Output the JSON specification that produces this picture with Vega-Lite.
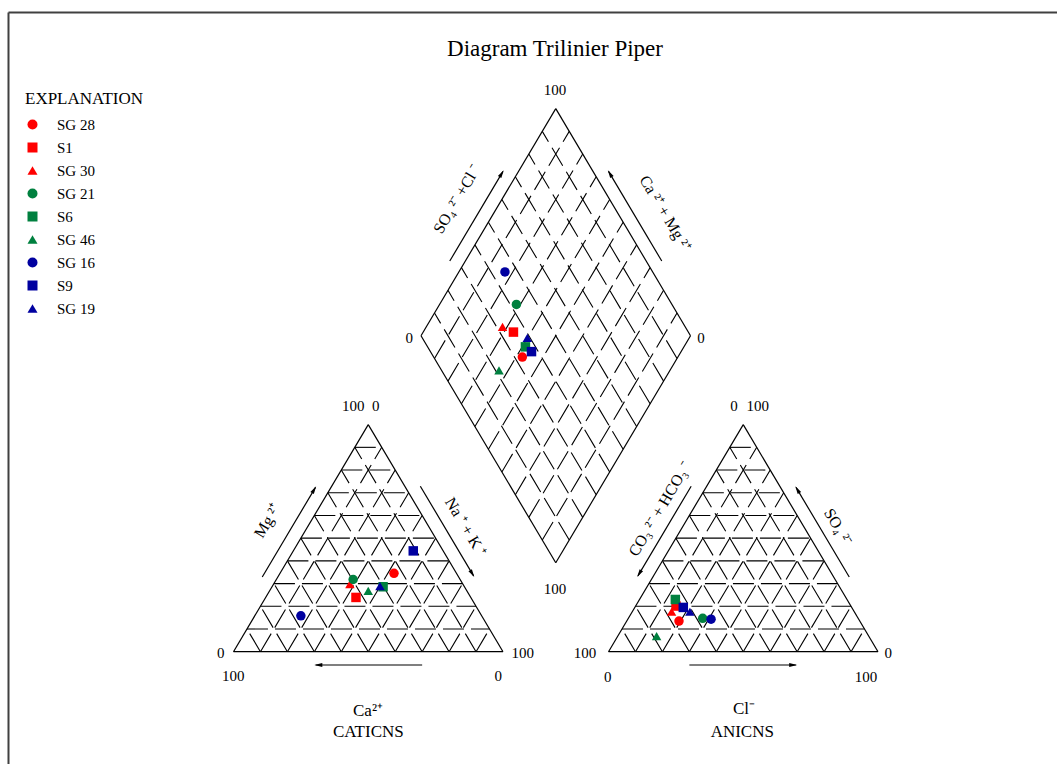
{
  "$schema": "https://vega.github.io/schema/vega-lite/v6.json",
  "width": 1057,
  "height": 764,
  "autosize": {"type": "none"},
  "padding": 0,
  "background": "white",
  "config": {
    "view": {"stroke": null},
    "font": "Liberation Serif",
    "legend": {
      "orient": "none",
      "legendX": 25,
      "legendY": 91,
      "titleFont": "Liberation Serif",
      "titleFontSize": 17,
      "titleFontWeight": "normal",
      "titleColor": "#000000",
      "titlePadding": 9,
      "labelFont": "Liberation Serif",
      "labelFontSize": 15,
      "labelColor": "#000000",
      "labelOffset": 17,
      "symbolSize": 100,
      "symbolStrokeWidth": 0,
      "rowPadding": 7
    }
  },
  "datasets": {
    "samples": [
      {"sample": "SG 28", "Ca": 23.2, "Mg": 34.5, "NaK": 42.3, "HCO3": 67.1, "SO4": 13.5, "Cl": 19.4},
      {"sample": "S1", "Ca": 42.6, "Mg": 23.9, "NaK": 33.5, "HCO3": 64.9, "SO4": 20.1, "Cl": 15.0},
      {"sample": "SG 30", "Ca": 41.9, "Mg": 29.8, "NaK": 28.3, "HCO3": 67.8, "SO4": 17.6, "Cl": 14.6},
      {"sample": "SG 21", "Ca": 39.7, "Mg": 31.8, "NaK": 28.5, "HCO3": 57.7, "SO4": 14.7, "Cl": 27.6},
      {"sample": "S6", "Ca": 30.2, "Mg": 28.6, "NaK": 41.2, "HCO3": 63.7, "SO4": 23.0, "Cl": 13.3},
      {"sample": "SG 46", "Ca": 36.6, "Mg": 26.8, "NaK": 36.6, "HCO3": 78.7, "SO4": 6.9, "Cl": 14.4},
      {"sample": "SG 16", "Ca": 67.1, "Mg": 15.8, "NaK": 17.1, "HCO3": 54.8, "SO4": 14.3, "Cl": 30.9},
      {"sample": "S9", "Ca": 11.1, "Mg": 44.4, "NaK": 44.5, "HCO3": 62.5, "SO4": 19.5, "Cl": 18.0},
      {"sample": "SG 19", "Ca": 31.2, "Mg": 28.9, "NaK": 39.9, "HCO3": 61.0, "SO4": 17.6, "Cl": 21.4}
    ],
    "frame": [
      {"x": -83.49, "y": 243.78, "x2": 305.57, "y2": 243.78},
      {"x": -83.49, "y": -42.83, "x2": -83.49, "y2": 243.78}
    ],
    "grid": [
      {"x": 5, "y": 8.66, "x2": 95, "y2": 8.66},
      {"x": 10, "y": 17.32, "x2": 90, "y2": 17.32},
      {"x": 15, "y": 25.98, "x2": 85, "y2": 25.98},
      {"x": 20, "y": 34.64, "x2": 80, "y2": 34.64},
      {"x": 25, "y": 43.3, "x2": 75, "y2": 43.3},
      {"x": 30, "y": 51.96, "x2": 70, "y2": 51.96},
      {"x": 35, "y": 60.62, "x2": 65, "y2": 60.62},
      {"x": 40, "y": 69.28, "x2": 60, "y2": 69.28},
      {"x": 45, "y": 77.94, "x2": 55, "y2": 77.94},
      {"x": 10, "y": 0, "x2": 55, "y2": 77.94},
      {"x": 20, "y": 0, "x2": 60, "y2": 69.28},
      {"x": 30, "y": 0, "x2": 65, "y2": 60.62},
      {"x": 40, "y": 0, "x2": 70, "y2": 51.96},
      {"x": 50, "y": 0, "x2": 75, "y2": 43.3},
      {"x": 60, "y": 0, "x2": 80, "y2": 34.64},
      {"x": 70, "y": 0, "x2": 85, "y2": 25.98},
      {"x": 80, "y": 0, "x2": 90, "y2": 17.32},
      {"x": 90, "y": 0, "x2": 95, "y2": 8.66},
      {"x": 10, "y": 0, "x2": 5, "y2": 8.66},
      {"x": 20, "y": 0, "x2": 10, "y2": 17.32},
      {"x": 30, "y": 0, "x2": 15, "y2": 25.98},
      {"x": 40, "y": 0, "x2": 20, "y2": 34.64},
      {"x": 50, "y": 0, "x2": 25, "y2": 43.3},
      {"x": 60, "y": 0, "x2": 30, "y2": 51.96},
      {"x": 70, "y": 0, "x2": 35, "y2": 60.62},
      {"x": 80, "y": 0, "x2": 40, "y2": 69.28},
      {"x": 90, "y": 0, "x2": 45, "y2": 77.94},
      {"x": 144.15, "y": 8.66, "x2": 234.15, "y2": 8.66},
      {"x": 149.15, "y": 17.32, "x2": 229.15, "y2": 17.32},
      {"x": 154.15, "y": 25.98, "x2": 224.15, "y2": 25.98},
      {"x": 159.15, "y": 34.64, "x2": 219.15, "y2": 34.64},
      {"x": 164.15, "y": 43.3, "x2": 214.15, "y2": 43.3},
      {"x": 169.15, "y": 51.96, "x2": 209.15, "y2": 51.96},
      {"x": 174.15, "y": 60.62, "x2": 204.15, "y2": 60.62},
      {"x": 179.15, "y": 69.28, "x2": 199.15, "y2": 69.28},
      {"x": 184.15, "y": 77.94, "x2": 194.15, "y2": 77.94},
      {"x": 149.15, "y": 0, "x2": 194.15, "y2": 77.94},
      {"x": 159.15, "y": 0, "x2": 199.15, "y2": 69.28},
      {"x": 169.15, "y": 0, "x2": 204.15, "y2": 60.62},
      {"x": 179.15, "y": 0, "x2": 209.15, "y2": 51.96},
      {"x": 189.15, "y": 0, "x2": 214.15, "y2": 43.3},
      {"x": 199.15, "y": 0, "x2": 219.15, "y2": 34.64},
      {"x": 209.15, "y": 0, "x2": 224.15, "y2": 25.98},
      {"x": 219.15, "y": 0, "x2": 229.15, "y2": 17.32},
      {"x": 229.15, "y": 0, "x2": 234.15, "y2": 8.66},
      {"x": 149.15, "y": 0, "x2": 144.15, "y2": 8.66},
      {"x": 159.15, "y": 0, "x2": 149.15, "y2": 17.32},
      {"x": 169.15, "y": 0, "x2": 154.15, "y2": 25.98},
      {"x": 179.15, "y": 0, "x2": 159.15, "y2": 34.64},
      {"x": 189.15, "y": 0, "x2": 164.15, "y2": 43.3},
      {"x": 199.15, "y": 0, "x2": 169.15, "y2": 51.96},
      {"x": 209.15, "y": 0, "x2": 174.15, "y2": 60.62},
      {"x": 219.15, "y": 0, "x2": 179.15, "y2": 69.28},
      {"x": 229.15, "y": 0, "x2": 184.15, "y2": 77.94},
      {"x": 114.58, "y": 42.57, "x2": 164.58, "y2": 129.17},
      {"x": 109.58, "y": 51.23, "x2": 159.58, "y2": 137.83},
      {"x": 104.58, "y": 59.89, "x2": 154.58, "y2": 146.49},
      {"x": 99.58, "y": 68.55, "x2": 149.58, "y2": 155.15},
      {"x": 94.58, "y": 77.21, "x2": 144.58, "y2": 163.81},
      {"x": 89.58, "y": 85.87, "x2": 139.58, "y2": 172.47},
      {"x": 84.58, "y": 94.53, "x2": 134.58, "y2": 181.13},
      {"x": 79.58, "y": 103.19, "x2": 129.58, "y2": 189.79},
      {"x": 74.58, "y": 111.85, "x2": 124.58, "y2": 198.45},
      {"x": 124.58, "y": 42.57, "x2": 74.58, "y2": 129.17},
      {"x": 129.58, "y": 51.23, "x2": 79.58, "y2": 137.83},
      {"x": 134.58, "y": 59.89, "x2": 84.58, "y2": 146.49},
      {"x": 139.58, "y": 68.55, "x2": 89.58, "y2": 155.15},
      {"x": 144.58, "y": 77.21, "x2": 94.58, "y2": 163.81},
      {"x": 149.58, "y": 85.87, "x2": 99.58, "y2": 172.47},
      {"x": 154.58, "y": 94.53, "x2": 104.58, "y2": 181.13},
      {"x": 159.58, "y": 103.19, "x2": 109.58, "y2": 189.79},
      {"x": 164.58, "y": 111.85, "x2": 114.58, "y2": 198.45}
    ],
    "outline": [
      {"x": 0, "y": 0, "x2": 100, "y2": 0},
      {"x": 0, "y": 0, "x2": 50, "y2": 86.6},
      {"x": 100, "y": 0, "x2": 50, "y2": 86.6},
      {"x": 139.15, "y": 0, "x2": 239.15, "y2": 0},
      {"x": 139.15, "y": 0, "x2": 189.15, "y2": 86.6},
      {"x": 239.15, "y": 0, "x2": 189.15, "y2": 86.6},
      {"x": 119.58, "y": 33.91, "x2": 69.58, "y2": 120.51},
      {"x": 69.58, "y": 120.51, "x2": 119.58, "y2": 207.11},
      {"x": 119.58, "y": 207.11, "x2": 169.58, "y2": 120.51},
      {"x": 169.58, "y": 120.51, "x2": 119.58, "y2": 33.91}
    ],
    "arrows": [
      {"x": 70, "y": -5.07, "x2": 30.5, "y2": -5.07},
      {"x": 169.15, "y": -5.07, "x2": 208.65, "y2": -5.07},
      {"x": 10.67, "y": 28.48, "x2": 30.42, "y2": 62.69},
      {"x": 69.33, "y": 63.12, "x2": 89.08, "y2": 28.91},
      {"x": 169.82, "y": 63.12, "x2": 150.07, "y2": 28.91},
      {"x": 228.48, "y": 28.48, "x2": 208.73, "y2": 62.69},
      {"x": 80.25, "y": 148.99, "x2": 100.0, "y2": 183.2},
      {"x": 158.91, "y": 148.99, "x2": 139.16, "y2": 183.2}
    ],
    "heads": [
      {"x": 31.48, "y": -5.07, "a": 270},
      {"x": 207.67, "y": -5.07, "a": 90},
      {"x": 29.92, "y": 61.82, "a": 30.68},
      {"x": 88.58, "y": 29.78, "a": 149.32},
      {"x": 150.57, "y": 29.78, "a": 210.68},
      {"x": 209.23, "y": 61.82, "a": 329.32},
      {"x": 99.5, "y": 182.33, "a": 30.68},
      {"x": 139.66, "y": 182.33, "a": 329.32}
    ],
    "numbers": [
      {"x": 119.29, "y": 214.23, "t": "100"},
      {"x": 65.2, "y": 119.64, "t": "0"},
      {"x": 173.5, "y": 119.64, "t": "0"},
      {"x": 119.29, "y": 23.91, "t": "100"},
      {"x": 44.45, "y": 93.71, "t": "100"},
      {"x": 52.76, "y": 93.71, "t": "0"},
      {"x": -4.75, "y": -0.61, "t": "0"},
      {"x": -0.07, "y": -9.27, "t": "100"},
      {"x": 107.31, "y": -0.61, "t": "100"},
      {"x": 98.26, "y": -9.27, "t": "0"},
      {"x": 185.71, "y": 93.71, "t": "0"},
      {"x": 194.51, "y": 93.71, "t": "100"},
      {"x": 130.43, "y": -0.61, "t": "100"},
      {"x": 138.85, "y": -9.53, "t": "0"},
      {"x": 242.97, "y": -0.61, "t": "0"},
      {"x": 234.69, "y": -9.53, "t": "100"}
    ],
    "words": [
      {"x": 49.91, "y": -22.65, "t": "Ca²⁺"},
      {"x": 50.02, "y": -30.74, "t": "CATICNS"},
      {"x": 189.42, "y": -21.85, "t": "Cl⁻"},
      {"x": 188.79, "y": -30.74, "t": "ANICNS"}
    ],
    "rotUp": [
      {"x": 12.62, "y": 49.85, "t": "Mg ²⁺"},
      {"x": 158.26, "y": 54.42, "t": "CO₃ ²⁻ + HCO₃ ⁻"},
      {"x": 82.93, "y": 172.58, "t": "SO₄ ²⁻ +Cl ⁻"}
    ],
    "rotDown": [
      {"x": 86.09, "y": 47.56, "t": "Na ⁺ + K ⁺"},
      {"x": 224.3, "y": 47.56, "t": "SO₄ ²⁻"},
      {"x": 160.11, "y": 167.2, "t": "Ca ²⁺ + Mg ²⁺"}
    ],
    "titles": [
      {"x": 119.29, "y": 229.8, "t": "Diagram Trilinier Piper"}
    ]
  },
  "encoding": {
    "x": {"field": "x", "type": "quantitative", "scale": {"domain": [-86.642, 305.566], "nice": false, "zero": false}, "axis": null},
    "y": {"field": "y", "type": "quantitative", "scale": {"domain": [-42.83, 248.551], "nice": false, "zero": false}, "axis": null}
  },
  "layer": [
    {
      "data": {"name": "frame"},
      "mark": {"type": "rule", "color": "#404040", "strokeWidth": 2},
      "encoding": {"x2": {"field": "x2"}, "y2": {"field": "y2"}}
    },
    {
      "data": {"name": "grid"},
      "mark": {"type": "rule", "color": "#000000", "strokeWidth": 1.1, "strokeDash": [21, 7]},
      "encoding": {"x2": {"field": "x2"}, "y2": {"field": "y2"}}
    },
    {
      "data": {"name": "outline"},
      "mark": {"type": "rule", "color": "#000000", "strokeWidth": 1.2},
      "encoding": {"x2": {"field": "x2"}, "y2": {"field": "y2"}}
    },
    {
      "data": {"name": "arrows"},
      "mark": {"type": "rule", "color": "#000000", "strokeWidth": 1.2},
      "encoding": {"x2": {"field": "x2"}, "y2": {"field": "y2"}}
    },
    {
      "data": {"name": "heads"},
      "mark": {"type": "point", "shape": "M0,-1L0.5,1L-0.5,1Z", "filled": true, "color": "#000000", "opacity": 1, "size": 64},
      "encoding": {"angle": {"field": "a", "type": "quantitative", "scale": null}}
    },
    {
      "data": {"name": "numbers"},
      "mark": {"type": "text", "font": "Liberation Serif", "fontSize": 15, "align": "center", "baseline": "middle", "color": "#000000"},
      "encoding": {"text": {"field": "t"}}
    },
    {
      "data": {"name": "words"},
      "mark": {"type": "text", "font": "Liberation Serif", "fontSize": 17, "align": "center", "baseline": "middle", "color": "#000000"},
      "encoding": {"text": {"field": "t"}}
    },
    {
      "data": {"name": "rotUp"},
      "mark": {"type": "text", "font": "Liberation Serif", "fontSize": 16, "align": "center", "baseline": "middle", "angle": 300.7, "color": "#000000"},
      "encoding": {"text": {"field": "t"}}
    },
    {
      "data": {"name": "rotDown"},
      "mark": {"type": "text", "font": "Liberation Serif", "fontSize": 16, "align": "center", "baseline": "middle", "angle": 59.3, "color": "#000000"},
      "encoding": {"text": {"field": "t"}}
    },
    {
      "data": {"name": "titles"},
      "mark": {"type": "text", "font": "Liberation Serif", "fontSize": 23, "align": "center", "baseline": "middle", "color": "#000000"},
      "encoding": {"text": {"field": "t"}}
    },
    {
      "data": {"name": "samples"},
      "transform": [
        {"calculate": "datum.NaK + datum.Mg / 2", "as": "x"},
        {"calculate": "datum.Mg * 0.866025", "as": "y"}
      ],
      "mark": {"type": "point", "filled": true, "opacity": 1, "size": 90},
      "encoding": {
        "color": {"field": "sample", "type": "nominal", "title": "EXPLANATION",
          "scale": {"domain": ["SG 28", "S1", "SG 30", "SG 21", "S6", "SG 46", "SG 16", "S9", "SG 19"],
                    "range": ["#ff0000", "#ff0000", "#ff0000", "#00803f", "#00803f", "#00803f", "#0000a0", "#0000a0", "#0000a0"]}},
        "shape": {"field": "sample", "type": "nominal", "title": "EXPLANATION",
          "scale": {"domain": ["SG 28", "S1", "SG 30", "SG 21", "S6", "SG 46", "SG 16", "S9", "SG 19"],
                    "range": ["circle", "square", "triangle-up", "circle", "square", "triangle-up", "circle", "square", "triangle-up"]}}
      }
    },
    {
      "data": {"name": "samples"},
      "transform": [
        {"calculate": "139.15 + datum.Cl + datum.SO4 / 2", "as": "x"},
        {"calculate": "datum.SO4 * 0.866025", "as": "y"}
      ],
      "mark": {"type": "point", "filled": true, "opacity": 1, "size": 90},
      "encoding": {
        "color": {"field": "sample", "type": "nominal", "title": "EXPLANATION"},
        "shape": {"field": "sample", "type": "nominal", "title": "EXPLANATION"}
      }
    },
    {
      "data": {"name": "samples"},
      "transform": [
        {"calculate": "119.575 + 0.5 * ((datum.SO4 + datum.Cl) - (datum.Ca + datum.Mg))", "as": "x"},
        {"calculate": "33.905 + 0.866025 * ((datum.Ca + datum.Mg) + (datum.SO4 + datum.Cl))", "as": "y"}
      ],
      "mark": {"type": "point", "filled": true, "opacity": 1, "size": 90},
      "encoding": {
        "color": {"field": "sample", "type": "nominal", "title": "EXPLANATION"},
        "shape": {"field": "sample", "type": "nominal", "title": "EXPLANATION"}
      }
    }
  ]
}
